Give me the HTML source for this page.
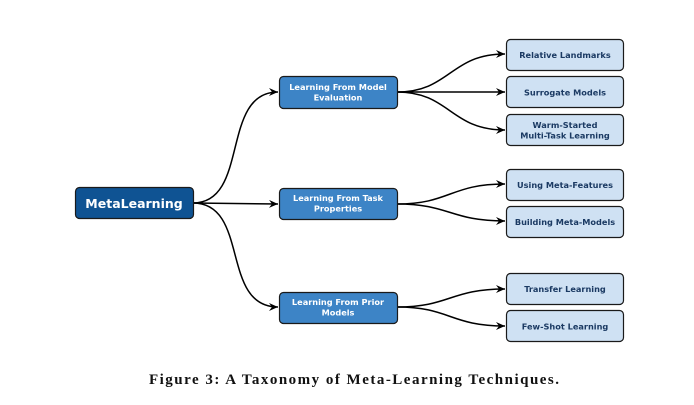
<!DOCTYPE html>
<html><head><meta charset="utf-8"><style>
html,body{margin:0;padding:0;background:#fff;width:694px;height:405px;overflow:hidden}
</style></head><body>
<svg width="694" height="405" viewBox="0 0 694 405" xmlns="http://www.w3.org/2000/svg">
<defs>
<marker id="a" markerWidth="10" markerHeight="8" refX="9" refY="4" orient="auto" markerUnits="userSpaceOnUse">
<path d="M0,0 L9,4 L0,8 L3,4 Z" fill="#000"/></marker>
</defs>
<g fill="none" stroke="#000" stroke-width="1.5" marker-end="url(#a)">
<path d="M193,203 C250,203 220,92 278,92"/>
<path d="M193,203 L278,204"/>
<path d="M193,203 C250,203 220,307 278,307"/>
<path d="M397,92 C450,92 450,54 505,54"/>
<path d="M397,92 L505,92"/>
<path d="M397,92 C450,92 450,130 505,130"/>
<path d="M397,204 C450,204 450,184 505,184"/>
<path d="M397,204 C450,204 450,221 505,221"/>
<path d="M397,307 C450,307 450,289 505,289"/>
<path d="M397,307 C450,307 450,326 505,326"/>
</g>
<g stroke="#1a1a1a" stroke-width="1.2">
<rect x="75.5" y="187.5" width="118" height="31" rx="4" fill="#0f5393"/>
<rect x="279.5" y="76.5" width="118" height="32" rx="4" fill="#3d84c6"/>
<rect x="279.5" y="188.5" width="118" height="31" rx="4" fill="#3d84c6"/>
<rect x="279.5" y="292.5" width="118" height="31" rx="4" fill="#3d84c6"/>
<g fill="#cfe1f3">
<rect x="506.5" y="39.5" width="117" height="31" rx="4"/>
<rect x="506.5" y="76.5" width="117" height="31" rx="4"/>
<rect x="506.5" y="114.5" width="117" height="31" rx="4"/>
<rect x="506.5" y="169.5" width="117" height="31" rx="4"/>
<rect x="506.5" y="206.5" width="117" height="31" rx="4"/>
<rect x="506.5" y="273.5" width="117" height="31" rx="4"/>
<rect x="506.5" y="310.5" width="117" height="31" rx="4"/>
</g></g>
<g font-family="'DejaVu Sans','Liberation Sans',sans-serif" font-weight="bold" text-anchor="middle">
<text x="134" y="208" font-size="12.5" fill="#fff">MetaLearning</text>
<g font-size="8.2" fill="#fff">
<text x="338" y="90">Learning From Model</text><text x="338" y="100.5">Evaluation</text>
<text x="338" y="201">Learning From Task</text><text x="338" y="211.5">Properties</text>
<text x="338" y="305">Learning From Prior</text><text x="338" y="315.5">Models</text>
</g>
<g font-size="8.2" fill="#1b3a63">
<text x="565" y="58">Relative Landmarks</text>
<text x="565" y="95.5">Surrogate Models</text>
<text x="565" y="128">Warm-Started</text><text x="565" y="138.5">Multi-Task Learning</text>
<text x="565" y="188">Using Meta-Features</text>
<text x="565" y="225">Building Meta-Models</text>
<text x="565" y="292">Transfer Learning</text>
<text x="565" y="329.5">Few-Shot Learning</text>
</g></g>
<text x="149" y="384" font-family="'Liberation Serif',serif" font-weight="bold" font-size="15" textLength="410" lengthAdjust="spacing" fill="#111">Figure 3:  A Taxonomy of Meta-Learning Techniques.</text>
</svg>
</body></html>
